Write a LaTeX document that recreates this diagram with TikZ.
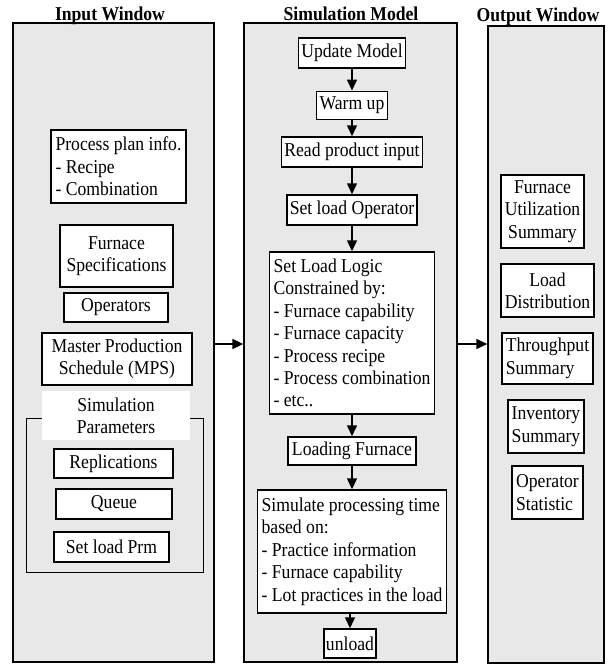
\documentclass[tikz,border=0pt]{standalone}
\usepackage{fontspec}
\setmainfont{Liberation Serif}[FakeStretch=0.9]
\usetikzlibrary{arrows.meta}
\definecolor{panelgray}{gray}{0.91}
\newcommand{\boxfont}{\fontsize{19.6}{22.4}\selectfont}

\begin{document}
\begin{tikzpicture}[x=1pt, y=-1pt, >={Triangle[length=11pt, width=10pt]},
	panel/.style={draw, rectangle, fill=panelgray, line width=1.3pt},
	blk/.style={draw, rectangle, fill=white, line width=1.5pt, inner sep=2pt, font=\boxfont},
	title/.style={anchor=base, font=\boxfont\bfseries},
	flow/.style={->, line width=1.5pt}]

	\useasboundingbox (0,0) rectangle (610,664);

	% the three windows
	\node[panel, minimum width=201pt, minimum height=639pt] (IW) at (113.5,342.5) {};
	\node[panel, minimum width=213pt, minimum height=639pt] (SM) at (350.5,342.5) {};
	\node[panel, minimum width=116pt, minimum height=637pt] (OW) at (546,344.5) {};

	\node[title] (T1) at (110,20) {Input Window};
	\node[title] (T2) at (351,20) {Simulation Model};
	\node[title] (T3) at (538,21) {Output Window};

	% input window
	\node[blk, align=left, minimum width=135pt, minimum height=73pt] (A) at (118.5,166.5) {Process plan info.\\- Recipe\\- Combination};
	\node[blk, align=center, minimum width=113pt, minimum height=62pt] (B) at (116.5,256) {Furnace\\Specifications};
	\node[blk, minimum width=104pt, minimum height=29pt] (C) at (116,307.5) {Operators};
	\node[blk, align=center, minimum width=150pt, minimum height=52pt] (D) at (117,359) {Master Production\\Schedule (MPS)};
	\draw[line width=0.8pt] (26,418) rectangle (203,572);
	\node[rectangle, fill=white, align=center, font=\boxfont, minimum width=148pt, minimum height=49pt] (E) at (116,415.5) {Simulation\\Parameters};
	\node[blk, minimum width=119pt, minimum height=29pt] (F) at (113.5,463.5) {Replications};
	\node[blk, minimum width=116pt, minimum height=30pt] (G) at (114,504) {Queue};
	\node[blk, minimum width=115pt, minimum height=30pt] (H) at (111.5,547) {Set load Prm};

	% simulation model
	\node[blk, minimum width=107pt, minimum height=30pt] (J) at (352,53) {Update Model};
	\node[blk, line width=0.9pt, minimum width=71pt, minimum height=28pt] (K) at (352,105) {Warm up};
	\node[blk, minimum width=141pt, minimum height=30pt] (L) at (352,152) {Read product input};
	\node[blk, minimum width=130pt, minimum height=30pt] (M) at (352,210) {Set load Operator};
	\node[blk, align=left, minimum width=165pt, minimum height=162pt] (N) at (352,333) {Set Load Logic\\Constrained by:\\- Furnace capability\\- Furnace capacity\\- Process recipe\\- Process combination\\- etc..};
	\node[blk, minimum width=128pt, minimum height=28pt] (O) at (352,451) {Loading Furnace};
	\node[blk, align=left, minimum width=189pt, minimum height=123pt] (P) at (352,551.5) {Simulate processing time\\based on:\\- Practice information\\- Furnace capability\\- Lot practices in the load};
	\node[blk, minimum width=52pt, minimum height=29pt] (Q) at (350,643.5) {unload};

	% output window
	\node[blk, align=center, minimum width=83pt, minimum height=73pt] (R) at (542.5,211.5) {Furnace\\Utilization\\Summary};
	\node[blk, align=center, minimum width=93pt, minimum height=53pt] (S) at (547.5,290.5) {Load\\Distribution};
	\node[blk, align=left, minimum width=91pt, minimum height=51pt] (U) at (547.5,358.5) {Throughput\\Summary};
	\node[blk, align=left, minimum width=76pt, minimum height=53pt] (V) at (546,426.5) {Inventory\\Summary};
	\node[blk, align=left, minimum width=71pt, minimum height=53pt] (W) at (547.5,492.5) {Operator\\Statistic};

	\draw[flow] (J) -- (K);
	\draw[flow] (K) -- (L);
	\draw[flow] (L) -- (M);
	\draw[flow] (M) -- (N);
	\draw[flow] (N) -- (O);
	\draw[flow] (O) -- (P);
	\draw[flow] (P.south -| Q.north) -- (Q);

	\draw[flow] (IW.east |- 0,344) -- (SM.west |- 0,344);
	\draw[flow] (SM.east |- 0,344) -- (OW.west |- 0,344);
\end{tikzpicture}
\end{document}
